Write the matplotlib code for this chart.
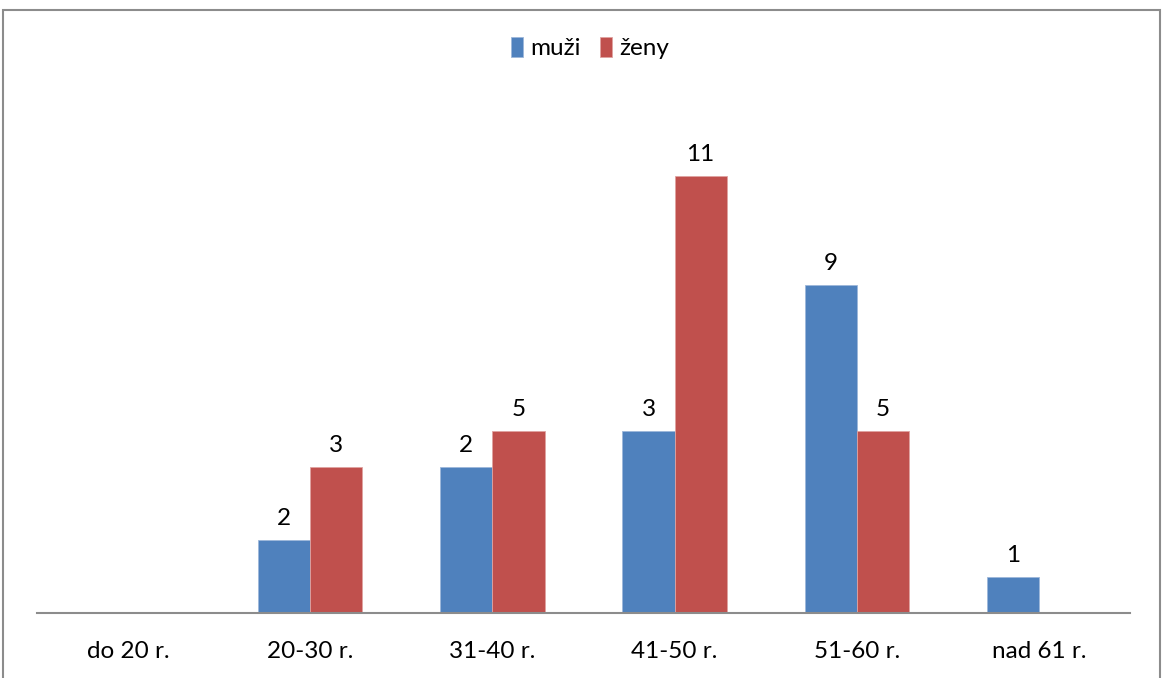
import matplotlib.pyplot as plt
import numpy as np
from matplotlib.patches import Rectangle

categories = ["do 20 r.", "20-30 r.", "31-40 r.", "41-50 r.", "51-60 r.", "nad 61 r."]
# bar heights as drawn in the picture
muzi_heights = [0, 2, 4, 5, 9, 1]
zeny_heights = [0, 4, 5, 12, 5, 0]
# data labels as printed above the bars
muzi_labels = ["", "2", "2", "3", "9", "1"]
zeny_labels = ["", "3", "5", "11", "5", ""]

BLUE = "#4F81BD"
RED = "#C0504D"

plt.rcParams["font.family"] = ["Lato", "DejaVu Sans"]

W, H = 1162, 678
fig = plt.figure(figsize=(W / 100, H / 100), dpi=100)
ax = fig.add_axes([37 / W, 65 / H, (1130 - 37) / W, 513 / H])

x = np.arange(len(categories))
bw = 0.286
ax.bar(x - bw / 2, muzi_heights, bw, color=BLUE, edgecolor="#9DB7DA", linewidth=0.6, label="muži")
ax.bar(x + bw / 2, zeny_heights, bw, color=RED, edgecolor="#E0A3A1", linewidth=0.6, label="ženy")

for i in range(len(categories)):
    if muzi_labels[i]:
        ax.annotate(muzi_labels[i], (x[i] - bw / 2, muzi_heights[i]), xytext=(0, 11),
                    textcoords="offset pixels", ha="center", va="bottom", fontsize=17.5)
    if zeny_labels[i]:
        ax.annotate(zeny_labels[i], (x[i] + bw / 2, zeny_heights[i]), xytext=(0, 11),
                    textcoords="offset pixels", ha="center", va="bottom", fontsize=17.5)

ax.set_xlim(-0.5, len(categories) - 0.5)
ax.set_ylim(0, 513 / 36.4)
ax.set_xticks(x)
ax.set_xticklabels(categories, fontsize=17.5)
ax.tick_params(axis="x", length=0, pad=20)
ax.set_yticks([])
for side in ["top", "right", "left"]:
    ax.spines[side].set_visible(False)
ax.spines["bottom"].set_color("#8C8C8C")
ax.spines["bottom"].set_linewidth(1.5)

fig.legend(loc="center", bbox_to_anchor=(590 / W, 1 - 48 / H), ncol=2, frameon=False,
           fontsize=17.5, handlelength=0.5, handleheight=0.9, handletextpad=0.3,
           columnspacing=0.8)

fig.patches.append(Rectangle((3 / W, -0.05), (1160 - 3) / W, 1.05 - 10 / H,
                             transform=fig.transFigure, fill=False,
                             edgecolor="#8C8C8C", linewidth=1.5))

fig.savefig("out.png", dpi=100)
